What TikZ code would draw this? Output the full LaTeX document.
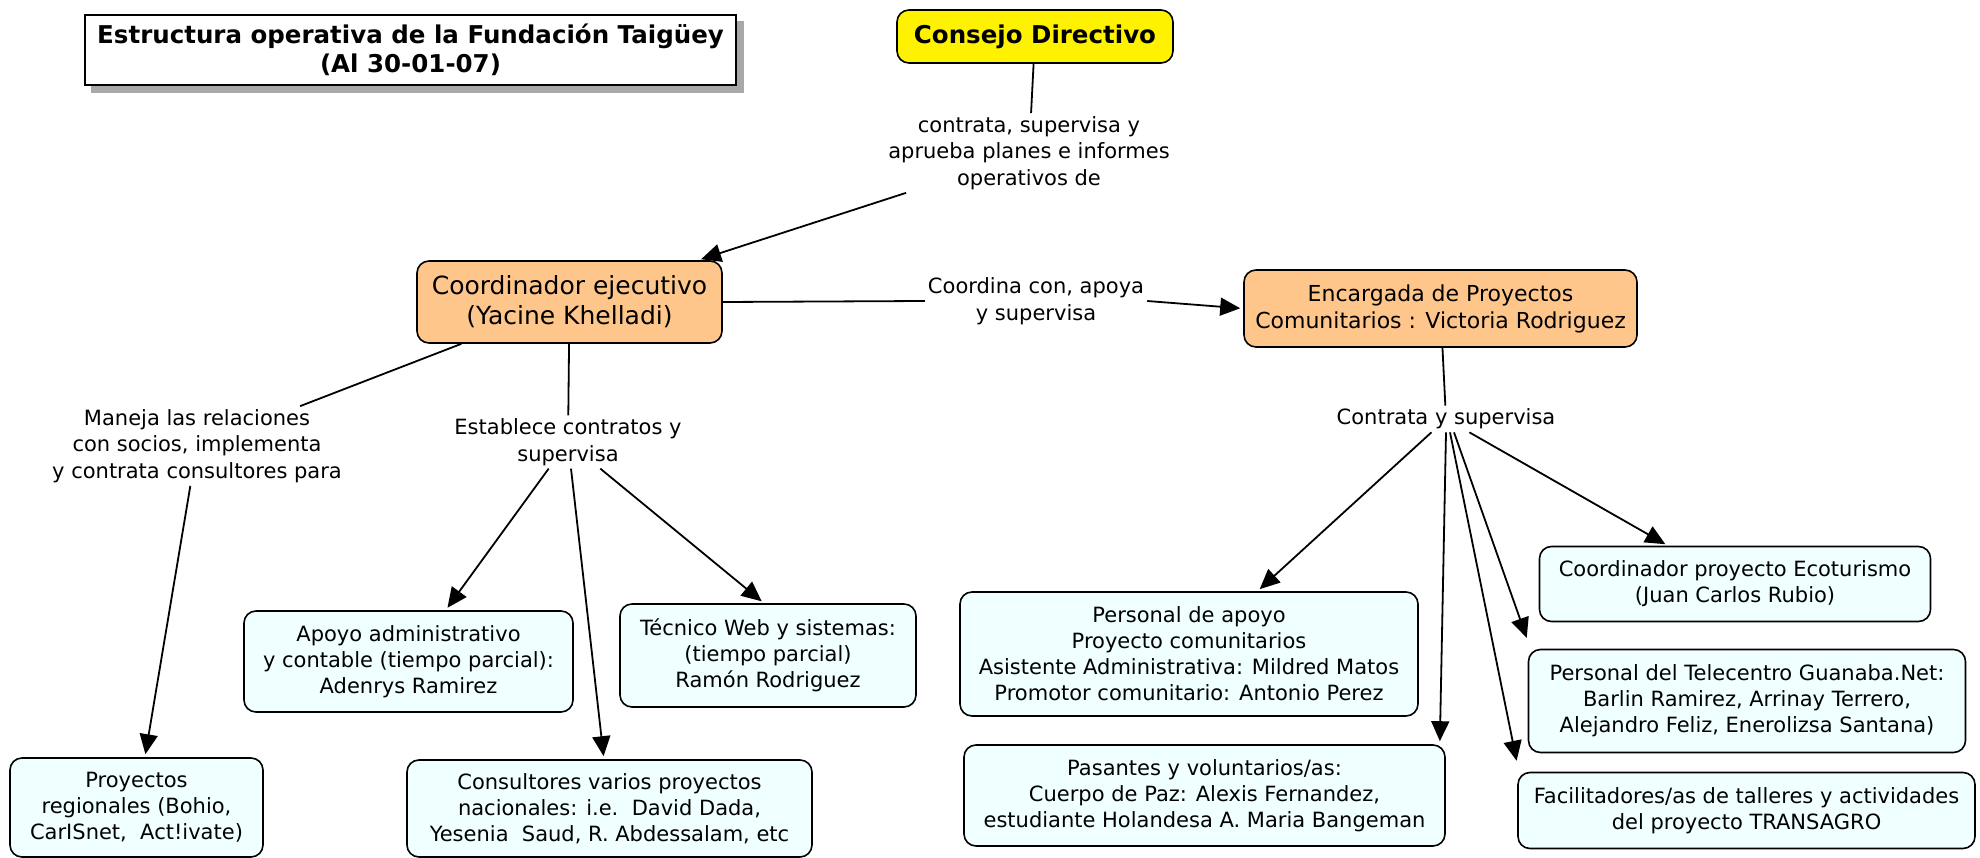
\documentclass[tikz,border=0pt]{standalone}
\usepackage{fontspec}
\setmainfont{DejaVu Sans}
\usetikzlibrary{arrows.meta,backgrounds}
\definecolor{orangefill}{HTML}{FFC68C}
\definecolor{leaffill}{HTML}{F0FFFF}
\definecolor{shadowgray}{HTML}{A8A8A8}
\begin{document}
\begin{tikzpicture}[x=1pt,y=-1pt,
  box/.style={draw=black, line width=1.6pt, rounded corners=12pt, align=center,
    font=\fontsize{21}{26}\selectfont, inner sep=0pt},
  leaf/.style={box, fill=leaffill},
  orangebox/.style={box, fill=orangefill},
  lbl/.style={align=center, font=\fontsize{21}{26.5}\selectfont, inner sep=3pt},
  conn/.style={line width=1.8pt},
  arr/.style={conn, -{Triangle[length=20pt,width=18pt]}, shorten >=3pt},
]
\useasboundingbox (0,0) rectangle (1980,858);

% title
\node[draw, line width=1.6pt, fill=white, align=center,
  font=\bfseries\fontsize{24.5}{29}\selectfont,
  minimum width=651pt, minimum height=70pt, inner sep=0pt] (title) at (410.5,50)
  {Estructura operativa de la Fundación Taigüey\\(Al 30-01-07)};
\begin{scope}[on background layer]
  \fill[shadowgray] ([shift={(7,7)}]title.north west) rectangle ([shift={(7,7)}]title.south east);
\end{scope}

% main nodes
\node[box, fill=yellow, font=\bfseries\fontsize{24.5}{29}\selectfont,
  minimum width=276pt, minimum height=53pt] (cd) at (1035,36.5) {Consejo Directivo};
\node[orangebox, font=\fontsize{25}{30}\selectfont,
  minimum width=305pt, minimum height=82pt] (coord) at (569.5,302)
  {Coordinador ejecutivo\\(Yacine Khelladi)};
\node[orangebox, font=\fontsize{22}{27}\selectfont, minimum width=393pt, minimum height=77pt] (enc) at (1440.5,308.5)
  {Encargada de Proyectos\\Comunitarios : Victoria Rodriguez};

% leaves
\node[leaf, minimum width=253pt, minimum height=99pt] (proy) at (136.5,807.5)
  {Proyectos\\regionales (Bohio,\\CarISnet,\ \ Act!ivate)};
\node[leaf, minimum width=329pt, minimum height=101pt] (adm) at (408.5,661.5)
  {Apoyo administrativo\\y contable (tiempo parcial):\\Adenrys Ramirez};
\node[leaf, minimum width=405pt, minimum height=97pt] (cons) at (609.5,808.5)
  {Consultores varios proyectos\\nacionales: i.e.\ \ David Dada,\\Yesenia\ \ Saud, R. Abdessalam, etc};
\node[leaf, minimum width=296pt, minimum height=103pt] (tec) at (768,655.5)
  {Técnico Web y sistemas:\\(tiempo parcial)\\Ramón Rodriguez};
\node[leaf, minimum width=458pt, minimum height=124pt] (pa) at (1189,654)
  {Personal de apoyo\\Proyecto comunitarios\\Asistente Administrativa: Mildred Matos\\Promotor comunitario: Antonio Perez};
\node[leaf, minimum width=481pt, minimum height=101pt] (pas) at (1204.5,795.5)
  {Pasantes y voluntarios/as:\\Cuerpo de Paz: Alexis Fernandez,\\estudiante Holandesa A. Maria Bangeman};
\node[leaf, minimum width=391pt, minimum height=75pt] (eco) at (1735,584)
  {Coordinador proyecto Ecoturismo\\(Juan Carlos Rubio)};
\node[leaf, minimum width=437pt, minimum height=103pt] (tel) at (1747,701)
  {Personal del Telecentro Guanaba.Net:\\Barlin Ramirez, Arrinay Terrero,\\Alejandro Feliz, Enerolizsa Santana)};
\node[leaf, minimum width=457pt, minimum height=76pt] (fac) at (1746.5,810.5)
  {Facilitadores/as de talleres y actividades\\del proyecto TRANSAGRO};

% labels
\node[lbl] (l1) at (1029,153) {contrata, supervisa y\\aprueba planes e informes\\operativos de};
\node[lbl] (l2) at (1036,301) {Coordina con, apoya\\y supervisa};
\node[lbl] (l3) at (197,446) {Maneja las relaciones\\con socios, implementa\\y contrata consultores para};
\node[lbl] (l4) at (568,442) {Establece contratos y\\supervisa};
\node[lbl] (l5) at (1446,419) {Contrata y supervisa};

% connectors
\draw[conn] (cd) -- (l1);
\draw[arr] (l1) -- (coord);
\draw[conn] (coord.east) -- (l2.west);
\draw[arr] (l2.east) -- (enc.west);
\draw[conn] (coord) -- (l3);
\draw[arr] (l3) -- (proy);
\draw[conn] (coord) -- (l4);
\draw[arr] (l4) -- (adm);
\draw[arr] (l4) -- (cons);
\draw[arr] (l4) -- ([xshift=-4pt]tec.north);
\draw[conn] (enc) -- (l5);
\draw[arr] (l5) -- (pa);
\draw[arr] (l5.south) -- ([xshift=-6pt]pas.north east);
\draw[arr] ([xshift=4pt]l5.south) -- ([yshift=8pt]fac.north west);
\draw[arr] ([xshift=8pt]l5.south) -- ([yshift=8pt]tel.north west);
\draw[arr] (l5) -- (eco);
\end{tikzpicture}
\end{document}
